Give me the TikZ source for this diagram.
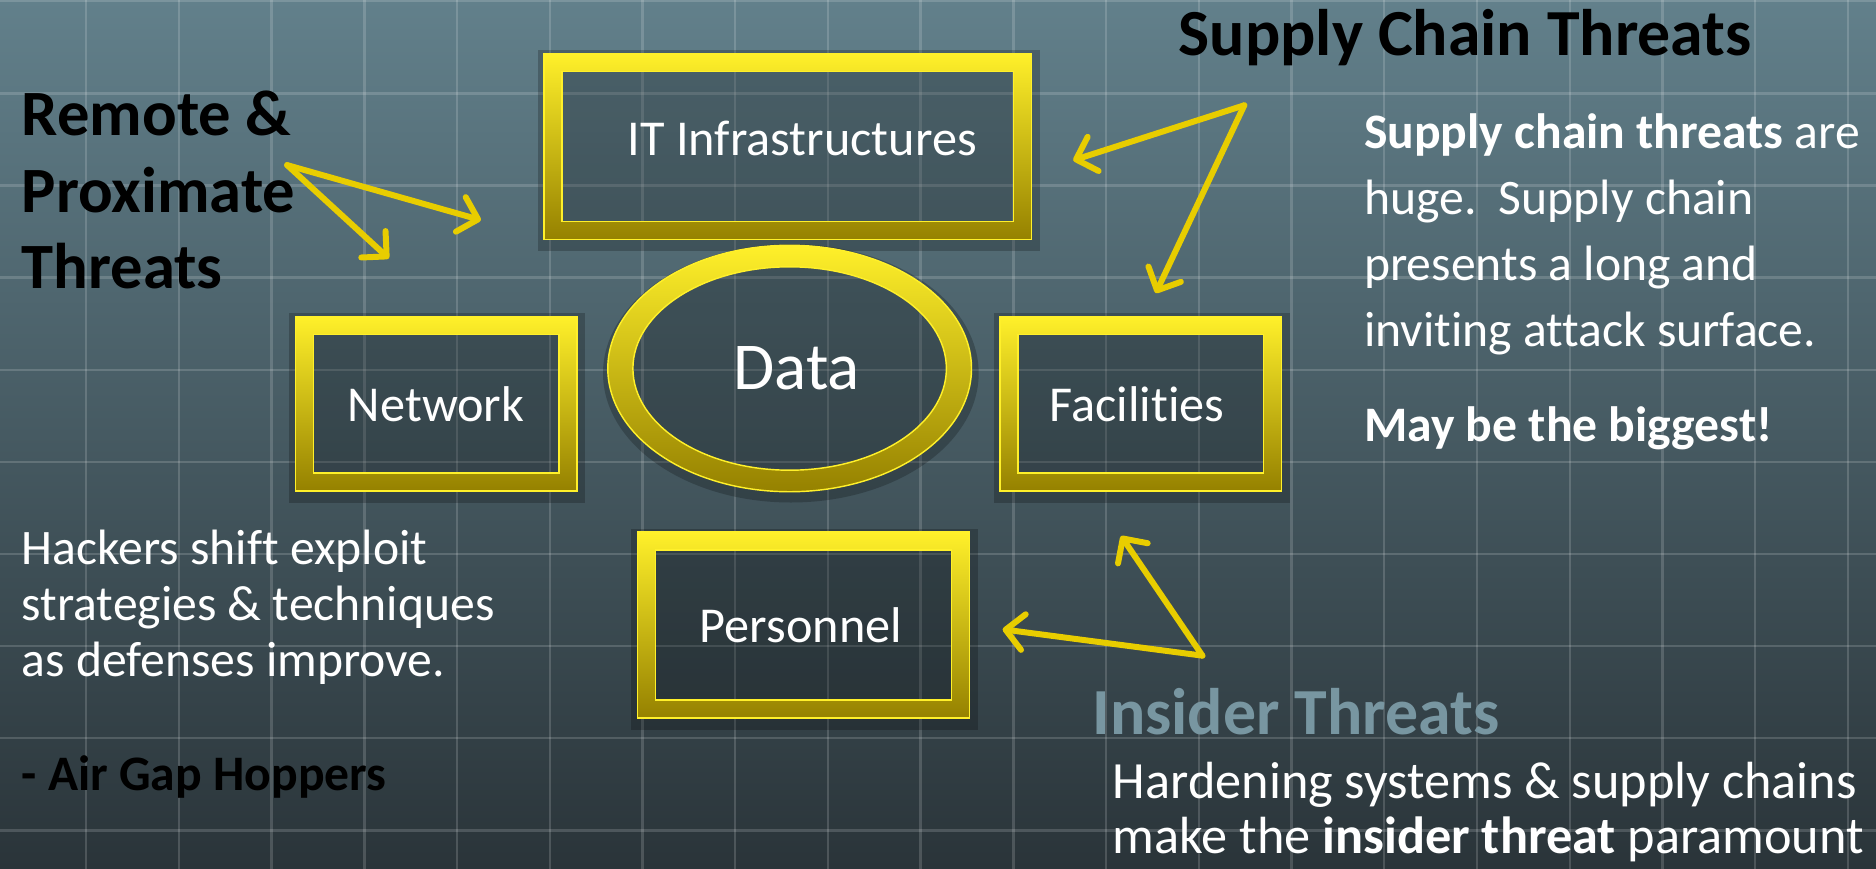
\documentclass[tikz,border=0pt]{standalone}
\usepackage{fontspec}
\setmainfont{Carlito}[Ligatures=CommonOff]
\usetikzlibrary{shapes.geometric,arrows.meta}
\definecolor{framehigh}{HTML}{FFF02A}
\definecolor{framelow}{HTML}{958100}
\definecolor{arrowyellow}{HTML}{E8CD00}
\definecolor{bgtop}{HTML}{62808B}
\definecolor{bgbottom}{HTML}{2A3439}
\definecolor{insidercolor}{HTML}{7896A1}
\def\bigsize{\fontsize{54}{64}\selectfont}
\def\textsize{\fontsize{41.5}{55}\selectfont}
\def\boxsize{\fontsize{42}{46}\selectfont}
\pgfdeclarelayer{back}
\pgfdeclarelayer{frames}
\pgfsetlayers{back,frames,main}

% yellow frame round a named box
\newcommand\yframe[1]{%
  \begin{pgfonlayer}{frames}
  \fill[black, opacity=0.22] ([shift={(-5,-3)}]#1.north west) rectangle ([shift={(7,10)}]#1.south east);
  \shade[top color=framehigh, bottom color=framelow, even odd rule, draw=framehigh, line width=1.2pt]
    (#1.north west) rectangle (#1.south east)
    ([shift={(15,15)}]#1.north west) rectangle ([shift={(-15,-15)}]#1.south east);
  \end{pgfonlayer}}

\begin{document}
\begin{tikzpicture}[x=1pt, y=-1pt,
  box/.style={rectangle, inner sep=0pt, text=white, font=\boxsize},
  threatarrow/.style={arrowyellow, line width=5pt, line cap=round, -{Straight Barb[length=15pt, width=30pt, round]}}]

  \useasboundingbox (0,0) rectangle (1568,726);
  \begin{pgfonlayer}{back}
  \shade[top color=bgtop, bottom color=bgbottom] (0,0) rectangle (1568,726);
  \foreach \gx in {72,149.5,...,1568} \draw[white, opacity=0.16, line width=2pt] (\gx,0) -- (\gx,726);
  \foreach \gy in {1,78,...,726} \draw[white, opacity=0.16, line width=2pt] (0,\gy) -- (1568,\gy);
  \end{pgfonlayer}

  % boxes round the data
  \node[box, minimum width=407, minimum height=155] (itinfra) at (658.5,122.5) {\hspace*{24pt}\raisebox{14pt}{IT Infrastructures}};
  \node[box, minimum width=235, minimum height=145] (network) at (364.5,337.5) {\raisebox{-4pt}{Network}};
  \node[box, minimum width=235, minimum height=145] (facilities) at (953.5,337.5) {\raisebox{-2pt}{Facilities}\hspace*{6pt}};
  \node[box, minimum width=277, minimum height=155] (personnel) at (671.5,522.5) {Personnel\hspace*{4pt}};
  \node[ellipse, inner sep=0pt, minimum width=304, minimum height=206, text=white, font=\fontsize{56}{60}\selectfont] (data) at (660,308) {\hspace*{12pt}Data};

  \yframe{itinfra}
  \yframe{network}
  \yframe{facilities}
  \yframe{personnel}
  \begin{pgfonlayer}{frames}
  \fill[black, opacity=0.22] ([shift={(1,4)}]data.center) ellipse [x radius=157, y radius=108];
  \shade[top color=framehigh, bottom color=framelow, even odd rule, draw=framehigh, line width=1.2pt]
    (data.center) ellipse [x radius=152, y radius=103] (data.center) ellipse [x radius=131, y radius=85];
  \end{pgfonlayer}

  % threat labels
  \node[anchor=north west, align=left, inner sep=0pt, font=\bfseries\bigsize] (remote) at (18,76) {Remote \&\\Proximate\\Threats};
  \node[anchor=north west, inner sep=0pt, font=\bfseries\fontsize{55}{60}\selectfont] (supply) at (985,8) {Supply Chain Threats};
  \node[anchor=north west, inner sep=0pt, text=insidercolor, font=\bfseries\fontsize{55}{60}\selectfont] (insider) at (913,575) {Insider Threats};

  \node[anchor=north west, align=left, inner sep=0pt, text=white, font=\textsize] (supplytext) at (1140,95)
    {\textbf{Supply chain threats} are\\huge.\ \ Supply chain\\presents a long and\\inviting attack surface.\\[25pt]\textbf{May be the biggest!}};
  \node[anchor=north west, align=left, inner sep=0pt, text=white, font=\fontsize{41.5}{46.5}\selectfont] (hackers) at (18,443)
    {Hackers shift exploit\\strategies \& techniques\\as defenses improve.\\[49pt]\textcolor{black}{\textbf{- Air Gap Hoppers}}};
  \node[anchor=north west, align=left, inner sep=0pt, text=white, font=\fontsize{43.7}{46}\selectfont] (insidertext) at (930,637)
    {Hardening systems \& supply chains\\make the \textbf{insider threat} paramount};

  % arrows
  \coordinate (remotetail) at (240,138);
  \coordinate (remotehead1) at (402,184);
  \coordinate (remotehead2) at (325,216);
  \coordinate (supplytail) at (1040,88);
  \coordinate (supplyhead1) at (897,134);
  \coordinate (supplyhead2) at (966,245);
  \coordinate (insidertail) at (1005,548);
  \coordinate (insiderhead1) at (838,526);
  \coordinate (insiderhead2) at (937,448);
  \draw[threatarrow] (remotetail) -- (remotehead1);
  \draw[threatarrow] (remotetail) -- (remotehead2);
  \draw[threatarrow] (supplytail) -- (supplyhead1);
  \draw[threatarrow] (supplytail) -- (supplyhead2);
  \draw[threatarrow] (insidertail) -- (insiderhead1);
  \draw[threatarrow] (insidertail) -- (insiderhead2);
\end{tikzpicture}
\end{document}
